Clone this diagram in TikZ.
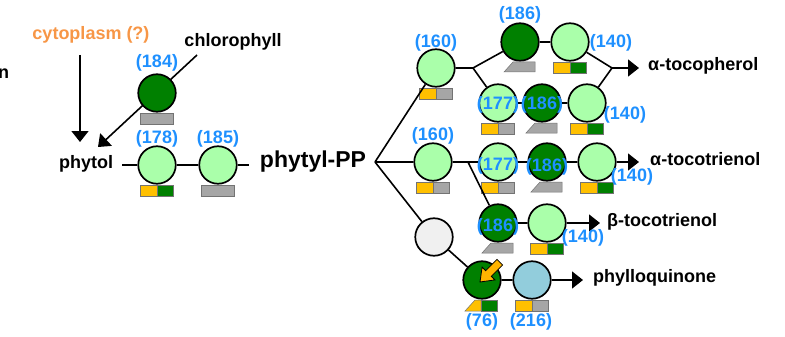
\documentclass[tikz,border=0pt]{standalone}
\usepackage{fontspec}
\setmainfont{Liberation Sans}
\usetikzlibrary{arrows.meta,backgrounds}
\definecolor{lgreen}{RGB}{170,255,170}
\definecolor{dgreen}{RGB}{0,128,0}
\definecolor{lblue}{RGB}{146,205,220}
\definecolor{lgray}{RGB}{240,240,240}
\definecolor{tgray}{RGB}{166,166,166}
\definecolor{tyellow}{RGB}{255,192,0}
\definecolor{numblue}{RGB}{30,144,255}
\definecolor{orangetxt}{RGB}{247,150,70}
\definecolor{arrorange}{RGB}{255,180,0}
\tikzset{
  enz/.style={circle, draw=black, line width=1.7pt, minimum size=37.5pt, inner sep=0pt},
  lg/.style={enz, fill=lgreen},
  dg/.style={enz, fill=dgreen},
  lb/.style={enz, fill=lblue},
  gr/.style={enz, fill=lgray},
  num/.style={text=numblue, inner sep=0pt, font=\fontsize{18}{18}\selectfont\bfseries},
  lbl/.style={inner sep=0pt, font=\fontsize{18}{18}\selectfont\bfseries},
  conn/.style={line width=1.6pt},
  arr/.style={conn, -{Triangle[length=11pt,width=17pt]}},
  tagbox/.style={draw=black!55, line width=0.5pt}
}
\newcommand\tagYG[1]{\begin{scope}[shift={(#1)}]
  \filldraw[tagbox, fill=tyellow] (-16.5,20) rectangle (0,31);
  \filldraw[tagbox, fill=dgreen] (0,20) rectangle (16.5,31);\end{scope}}
\newcommand\tagYR[1]{\begin{scope}[shift={(#1)}]
  \filldraw[tagbox, fill=tyellow] (-16.5,20) rectangle (0,31);
  \filldraw[tagbox, fill=tgray] (0,20) rectangle (16.5,31);\end{scope}}
\newcommand\tagR[1]{\begin{scope}[shift={(#1)}]
  \filldraw[tagbox, fill=tgray] (-16.5,20) rectangle (16.5,31);\end{scope}}
\newcommand\tagT[1]{\begin{scope}[shift={(#1)}]
  \filldraw[tagbox, fill=tgray] (-16,30) -- (15,30) -- (15,20) -- (-7,20) -- cycle;\end{scope}}
\newcommand\tagTG[1]{\begin{scope}[shift={(#1)}]
  \filldraw[tagbox, fill=tyellow] (-17,31) -- (-1,31) -- (-1,20) -- (-7,20) -- cycle;
  \filldraw[tagbox, fill=dgreen] (-1,20) rectangle (15,31);\end{scope}}
\begin{document}
\begin{tikzpicture}[x=1pt,y=-1pt]
\useasboundingbox (0,0) rectangle (785,337);
% texts
\node[lbl, anchor=west] (ntxt) at (-2,74) {n};
\node[lbl, text=orangetxt] (cyto) at (91,35) {cytoplasm (?)};
\node[lbl] (chl) at (233,42) {chlorophyll};
\node[lbl] (phytol) at (86,164) {phytol};
\node[inner sep=0pt, font=\fontsize{23}{23}\selectfont\bfseries] (ppp) at (313,162) {phytyl-PP};
\node[lbl, anchor=west] (atoc) at (648,66) {α-tocopherol};
\node[lbl, anchor=west] (atri) at (650,159) {α-tocotrienol};
\node[lbl, anchor=west] (btri) at (607,222) {β-tocotrienol};
\node[lbl, anchor=west] (phyq) at (593,278) {phylloquinone};
% coordinates
\coordinate (cytoA) at (80,55);
\coordinate (cytoB) at (80,142);
\coordinate (chlA) at (197,55);
\coordinate (chlB) at (98,147);
\coordinate (phA) at (122,165);
\coordinate (phB) at (249,165);
\coordinate (br) at (375,162);
\coordinate (J1) at (473,68);
\coordinate (J2) at (612,68);
\coordinate (J3) at (468,162);
\coordinate (tipA) at (639,68);
\coordinate (tipB) at (639,162);
\coordinate (tipC) at (600,223);
\coordinate (tipD) at (583,280);
% circles
\node[dg] (c184) at (157,93) {};
\node[lg] (c178) at (157,165) {};
\node[lg] (c185) at (218,165) {};
\node[lg] (c160t) at (436,68) {};
\node[dg] (c186t) at (520,42) {};
\node[lg] (c140t) at (570,42) {};
\node[lg] (c177a) at (498,103) {};
\node[dg] (c186a) at (542,103) {};
\node[lg] (c140a) at (587,103) {};
\node[lg] (c160m) at (433,162) {};
\node[lg] (c177b) at (498,162) {};
\node[dg] (c186b) at (547,162) {};
\node[lg] (c140b) at (597,162) {};
\node[dg] (c186c) at (498,223) {};
\node[lg] (c140c) at (547,223) {};
\node[gr] (cgray) at (434,237) {};
\node[dg] (c76) at (482,280) {};
\node[lb] (c216) at (532,280) {};
% tags
\tagR{c184}
\tagYG{c178}
\tagR{c185}
\tagYR{c160t}
\tagT{c186t}
\tagYG{c140t}
\tagYR{c177a}
\tagT{c186a}
\tagYG{c140a}
\tagYR{c160m}
\tagYR{c177b}
\tagT{c186b}
\tagYG{c140b}
\tagT{c186c}
\tagYG{c140c}
\tagTG{c76}
\tagYR{c216}
% orange arrow in c76
\filldraw[draw=black, line width=0.8pt, fill=arrorange]
  (480,282) -- (494.9,279.9) -- (491.3,276.3) -- (502.6,265) -- (497,259.4)
  -- (485.7,270.7) -- (482.1,267.1) -- cycle;
% connectors
\begin{pgfonlayer}{background}
\draw[arr] (chlA) -- (chlB);
\end{pgfonlayer}
\draw[arr] (cytoA) -- (cytoB);
\draw[conn] (phA) -- (c178) (c178) -- (c185) (c185) -- (phB);
\draw[conn] (br) -- (c160t) (br) -- (c160m) (br) -- (cgray);
\draw[conn] (c160t) -- (J1) (J1) -- (c186t) (J1) -- (c177a);
\draw[conn] (c186t) -- (c140t) (c177a) -- (c186a) (c186a) -- (c140a);
\draw[conn] (c140t) -- (J2) (c140a) -- (J2);
\draw[arr] (J2) -- (tipA);
\draw[conn] (c160m) -- (J3) (J3) -- (c177b) (c177b) -- (c186b) (c186b) -- (c140b);
\draw[conn] (J3) -- (c186c) (c186c) -- (c140c);
\draw[arr] (c140b) -- (tipB);
\draw[arr] (c140c) -- (tipC);
\draw[conn] (cgray) -- (c76) (c76) -- (c216);
\draw[arr] (c216) -- (tipD);
% numbers
\node[num] (n184) at (157,63) {(184)};
\node[num] (n178) at (157,139) {(178)};
\node[num] (n185) at (218,139) {(185)};
\node[num] (n160t) at (436,43) {(160)};
\node[num] (n186t) at (520,15) {(186)};
\node[num] (n140t) at (611,43) {(140)};
\node[num] (n177a) at (498,105) {(177)};
\node[num] (n186a) at (542,105) {(186)};
\node[num] (n140a) at (625,115) {(140)};
\node[num] (n160m) at (433,136) {(160)};
\node[num] (n177b) at (498,166) {(177)};
\node[num] (n186b) at (547,167) {(186)};
\node[num] (n140b) at (632,177) {(140)};
\node[num] (n186c) at (498,227) {(186)};
\node[num] (n140c) at (583,238) {(140)};
\node[num] (n76) at (482,322) {(76)};
\node[num] (n216) at (531,322) {(216)};
\end{tikzpicture}
\end{document}
